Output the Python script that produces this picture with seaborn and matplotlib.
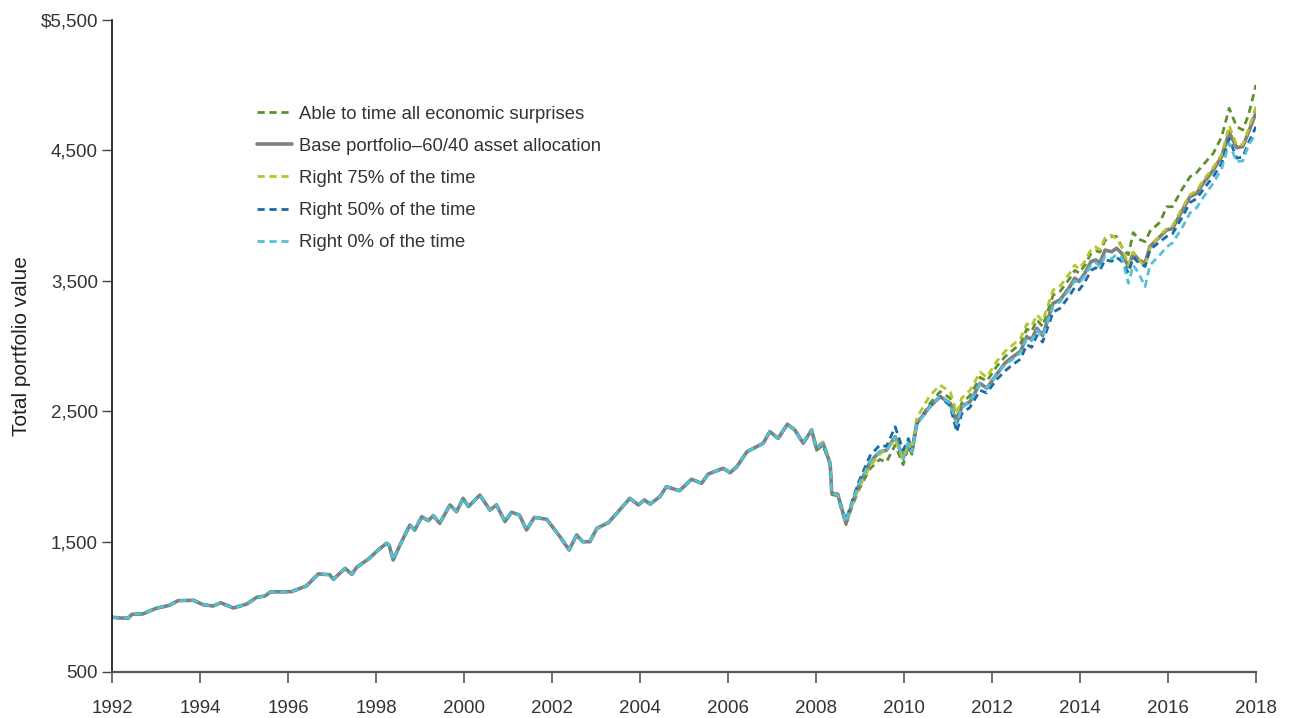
import numpy as np
import pandas as pd
import matplotlib
matplotlib.use("Agg")
import matplotlib.pyplot as plt
import seaborn as sns

# --- data ---
# base portfolio, shared by all scenarios up to end of 2007
pre_years = [1992.0, 1992.15, 1992.37, 1992.45, 1992.7, 1993.0, 1993.3, 1993.5, 1993.85,
             1994.07, 1994.3, 1994.47, 1994.76, 1995.06, 1995.29, 1995.48, 1995.6, 1996.08,
             1996.42, 1996.69, 1996.95, 1997.03, 1997.3, 1997.45, 1997.56, 1997.83, 1998.05,
             1998.24, 1998.3, 1998.39, 1998.58, 1998.77, 1998.88, 1999.04, 1999.19, 1999.3,
             1999.45, 1999.68, 1999.83, 1999.98, 2000.1, 2000.36, 2000.59, 2000.74, 2000.93,
             2001.08, 2001.26, 2001.42, 2001.6, 2001.88, 2002.18, 2002.39, 2002.56, 2002.7,
             2002.86, 2003.02, 2003.28, 2003.47, 2003.77, 2003.96, 2004.1, 2004.23, 2004.45,
             2004.6, 2004.9, 2005.17, 2005.4, 2005.55, 2005.89, 2006.05, 2006.2, 2006.43,
             2006.65, 2006.8, 2006.95, 2007.14, 2007.35, 2007.52, 2007.71, 2007.9]
pre_values = [920, 915, 912, 942, 945, 988, 1011, 1047, 1050,
              1016, 1006, 1031, 991, 1021, 1073, 1083, 1114, 1116,
              1160, 1252, 1246, 1211, 1295, 1249, 1303, 1367, 1436,
              1487, 1470, 1359, 1499, 1627, 1588, 1691, 1660, 1699,
              1640, 1781, 1729, 1832, 1768, 1857, 1742, 1781, 1653,
              1725, 1704, 1589, 1686, 1671, 1538, 1436, 1551, 1499,
              1499, 1602, 1645, 1717, 1832, 1781, 1819, 1788, 1844,
              1921, 1890, 1978, 1947, 2018, 2062, 2028, 2074, 2189,
              2228, 2254, 2343, 2292, 2400, 2356, 2254, 2356]

# from 2008 the scenarios split apart
post_years = [2008.01, 2008.16, 2008.32, 2008.36, 2008.5, 2008.55, 2008.68, 2008.81, 2008.96,
              2009.23, 2009.45, 2009.6, 2009.8, 2009.98, 2010.1, 2010.18, 2010.29, 2010.59,
              2010.82, 2011.05, 2011.2, 2011.31, 2011.5, 2011.73, 2011.88, 2012.1, 2012.3,
              2012.48, 2012.65, 2012.79, 2012.9, 2013.02, 2013.15, 2013.39, 2013.55, 2013.77,
              2013.88, 2013.98, 2014.11, 2014.25, 2014.36, 2014.45, 2014.57, 2014.72, 2014.83,
              2014.95, 2015.1, 2015.21, 2015.33, 2015.48, 2015.59, 2015.82, 2015.97, 2016.1,
              2016.31, 2016.5, 2016.65, 2016.8, 2017.03, 2017.22, 2017.39, 2017.56, 2017.7,
              2017.83, 2018.0]
base_post = [2215, 2254, 2100, 1871, 1857, 1794, 1641, 1781, 1921,
             2113, 2189, 2200, 2305, 2139, 2254, 2189, 2407, 2535,
             2612, 2561, 2407, 2535, 2573, 2714, 2676, 2780, 2870,
             2918, 2960, 3072, 3050, 3136, 3080, 3328, 3355, 3455,
             3520, 3495, 3558, 3647, 3660, 3635, 3736, 3723, 3750,
             3710, 3609, 3711, 3660, 3635, 3763, 3840, 3890, 3900,
             4030, 4145, 4170, 4248, 4350, 4452, 4640, 4520, 4530,
             4640, 4790]
all_post = [2200, 2240, 2090, 1860, 1850, 1780, 1630, 1760, 1890,
            2060, 2130, 2110, 2240, 2090, 2230, 2170, 2400, 2560,
            2650, 2600, 2450, 2560, 2620, 2760, 2730, 2840, 2920,
            2970, 3020, 3130, 3110, 3200, 3150, 3390, 3420, 3520,
            3580, 3560, 3620, 3710, 3730, 3720, 3810, 3840, 3840,
            3760, 3700, 3870, 3820, 3800, 3880, 3950, 4068, 4068,
            4196, 4298, 4330, 4390, 4478, 4605, 4823, 4682, 4657,
            4772, 5002]
r75_post = [2230, 2265, 2110, 1880, 1870, 1800, 1650, 1770, 1900,
            2080, 2170, 2210, 2280, 2130, 2260, 2200, 2450, 2620,
            2700, 2650, 2480, 2600, 2660, 2800, 2760, 2880, 2960,
            3010, 3060, 3170, 3150, 3240, 3190, 3430, 3460, 3560,
            3620, 3590, 3650, 3740, 3760, 3740, 3830, 3850, 3820,
            3760, 3620, 3720, 3660, 3610, 3750, 3850, 3900, 3920,
            4050, 4160, 4190, 4270, 4370, 4470, 4690, 4540, 4545,
            4660, 4836]
r50_post = [2215, 2254, 2100, 1871, 1860, 1800, 1660, 1800, 1950,
            2160, 2240, 2230, 2380, 2200, 2290, 2200, 2400, 2540,
            2610, 2540, 2340, 2480, 2530, 2660, 2640, 2740, 2810,
            2860, 2900, 3010, 2990, 3080, 3030, 3260, 3290, 3390,
            3450, 3430, 3490, 3580, 3600, 3580, 3660, 3650, 3680,
            3650, 3560, 3680, 3640, 3610, 3740, 3800, 3840, 3860,
            3980, 4100, 4130, 4200, 4300, 4400, 4590, 4440, 4450,
            4560, 4682]
r0_post = [2215, 2254, 2100, 1871, 1857, 1794, 1650, 1790, 1930,
           2120, 2190, 2200, 2300, 2140, 2254, 2189, 2400, 2535,
           2612, 2560, 2400, 2530, 2570, 2710, 2676, 2780, 2860,
           2900, 2950, 3060, 3040, 3120, 3070, 3310, 3340, 3440,
           3500, 3480, 3540, 3620, 3640, 3610, 3690, 3670, 3700,
           3680, 3481, 3620, 3560, 3455, 3620, 3700, 3760, 3790,
           3900, 4020, 4060, 4140, 4250, 4360, 4555, 4414, 4420,
           4540, 4630]

series_names = ["Able to time all economic surprises",
                "Base portfolio\u201360/40 asset allocation",
                "Right 75% of the time",
                "Right 50% of the time",
                "Right 0% of the time"]
series_colors = ["#5e8f30", "#808080", "#b6c62a", "#1a6aa6", "#55c1d6"]

ytick_vals = [500, 1500, 2500, 3500, 4500, 5500]
ytick_labels = ["500", "1,500", "2,500", "3,500", "4,500", "$5,500"]
xtick_vals = list(range(1992, 2019, 2))

years = pre_years + post_years
series_values = [pre_values + all_post, pre_values + base_post, pre_values + r75_post,
                 pre_values + r50_post, pre_values + r0_post]

# --- plot ---
sns.set_style("white")
plt.rcParams["font.family"] = ["Liberation Sans", "DejaVu Sans"]

fig = plt.figure(figsize=(12.91, 7.18), dpi=100)
ax = fig.add_axes([112 / 1291, 1 - 672 / 718, (1256 - 112) / 1291, (672 - 20) / 718])

for name, col, vals in zip(series_names, series_colors, series_values):
    if name.startswith("Base"):
        sns.lineplot(x=years, y=vals, ax=ax, color=col, lw=2.6, label=name,
                     estimator=None, sort=False)
    else:
        sns.lineplot(x=years, y=vals, ax=ax, color=col, lw=2.0, label=name,
                     linestyle=(0, (2.6, 1.7)), estimator=None, sort=False)

ax.set_xlim(1992, 2018)
ax.set_ylim(500, 5500)
ax.set_xticks(xtick_vals)
ax.set_xticklabels([str(y) for y in xtick_vals])
ax.set_yticks(ytick_vals)
ax.set_yticklabels(ytick_labels)

for s in ["top", "right"]:
    ax.spines[s].set_visible(False)
ax.spines["left"].set_color("#111111")
ax.spines["left"].set_linewidth(1.2)
ax.spines["bottom"].set_color("#555555")
ax.spines["bottom"].set_linewidth(1.6)
ax.tick_params(axis="y", direction="out", length=7, width=1, color="#444444",
               labelsize=13.5, labelcolor="#333333", pad=3, left=True)
ax.tick_params(axis="x", direction="out", length=8, width=1.3, color="#666666",
               labelsize=13.5, labelcolor="#333333", pad=12, bottom=True)

ax.set_xlabel("")
ax.set_ylabel("Total portfolio value", fontsize=15, color="#222222", labelpad=7)

leg = ax.legend(loc="upper left", bbox_to_anchor=(0.12, 0.88), frameon=False,
                fontsize=13.3, handlelength=1.9, handletextpad=0.4, labelspacing=0.82,
                borderaxespad=0)
for t in leg.get_texts():
    t.set_color("#333333")

fig.savefig("out.png", dpi=100)
